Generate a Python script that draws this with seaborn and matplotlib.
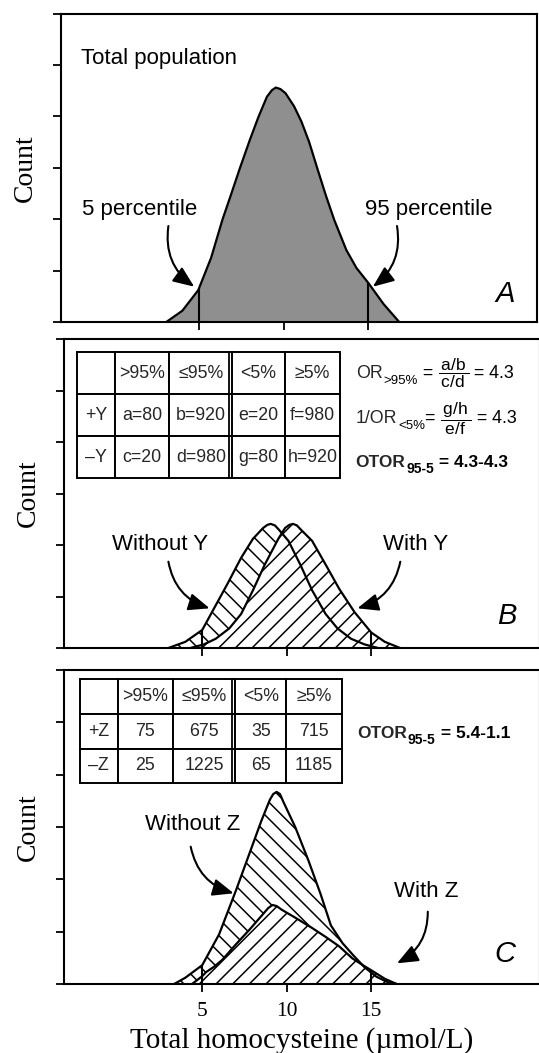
import numpy as np
import matplotlib
matplotlib.use("Agg")
import matplotlib.pyplot as plt
import seaborn as sns

# ---------------- data ----------------
# x: total homocysteine (umol/L); h: height in count-tick units
popA_x = [3.05, 4.0, 4.94, 5.7, 6.36, 6.9, 7.40, 8.0, 8.49, 9.0, 9.3, 9.53, 9.8, 10.1, 10.6,
          11.04, 11.5, 11.98, 12.5, 12.99, 13.7, 14.3, 15.0, 15.9, 16.83]
popA_h = [0, 0.22, 0.62, 1.25, 1.98, 2.5, 2.99, 3.55, 3.98, 4.38, 4.51, 4.56, 4.53, 4.45, 4.2,
          3.9, 3.5, 2.99, 2.45, 1.98, 1.4, 1.05, 0.76, 0.35, 0]

withoutY_x = [3.0, 4.0, 5.0, 5.7, 6.5, 7.3, 8.0, 8.6, 8.85, 9.05, 9.3, 9.5, 10.1, 10.8,
              11.5, 12.3, 13.0, 13.8, 14.6, 15.4]
withoutY_h = [0, 0.12, 0.35, 0.77, 1.25, 1.75, 2.12, 2.33, 2.39, 2.41, 2.38, 2.31, 2.08,
              1.62, 1.12, 0.66, 0.38, 0.18, 0.07, 0]
withY_x = [4.3, 5.1, 5.8, 6.6, 7.3, 8.0, 8.7, 9.5, 9.9, 10.15, 10.37, 10.6, 10.8, 11.5,
           12.3, 13.1, 14.0, 15.0, 15.8, 16.7]
withY_h = [0, 0.07, 0.18, 0.38, 0.66, 1.12, 1.62, 2.12, 2.33, 2.39, 2.41, 2.38, 2.31,
           2.08, 1.62, 1.15, 0.7, 0.3, 0.12, 0]

withoutZ_x = [3.34, 4.0, 5.0, 6.0, 7.01, 7.8, 8.5, 9.0, 9.2, 9.4, 9.6, 9.8, 10.5,
              11.27, 12.0, 12.61, 13.3, 13.93, 14.6, 15.3, 16.0, 16.5]
withoutZ_h = [0, 0.12, 0.36, 0.95, 1.80, 2.5, 3.12, 3.52, 3.63, 3.67, 3.63, 3.48, 3.0,
              2.37, 1.72, 1.12, 0.78, 0.55, 0.32, 0.14, 0.03, 0]
withZ_x = [4.4, 5.0, 5.24, 5.7, 6.18, 7.0, 7.8, 8.5, 8.9, 9.15, 9.4, 9.7, 10.54, 11.5,
           12.3, 13.1, 13.88, 14.5, 15.06, 15.8, 16.5]
withZ_h = [0, 0.15, 0.23, 0.33, 0.46, 0.76, 1.04, 1.3, 1.45, 1.51, 1.49, 1.42, 1.26,
           1.07, 0.9, 0.72, 0.49, 0.36, 0.25, 0.1, 0]

x_ticks = [5, 10, 15]
x_tick_labels = ["5", "10", "15"]
percentiles = [5, 15]

tableY_header = ["", ">95%", "≤95%", "<5%", "≥5%"]
tableY_rows = [["+Y", "a=80", "b=920", "e=20", "f=980"],
               ["–Y", "c=20", "d=980", "g=80", "h=920"]]
tableZ_header = ["", ">95%", "≤95%", "<5%", "≥5%"]
tableZ_rows = [["+Z", "75", "675", "35", "715"],
               ["–Z", "25", "1225", "65", "1185"]]

# ---------------- style ----------------
sns.set_theme(style="ticks")
SANS = ["Liberation Sans", "DejaVu Sans"]
SERIF = ["Liberation Serif", "DejaVu Serif"]
plt.rcParams["font.family"] = SANS
plt.rcParams["mathtext.fontset"] = "custom"
plt.rcParams["mathtext.rm"] = "Liberation Sans"
plt.rcParams["mathtext.default"] = "regular"
plt.rcParams["hatch.linewidth"] = 1.1
plt.rcParams["hatch.color"] = "black"

W, H = 539, 1053
fig = plt.figure(figsize=(W / 100, H / 100), dpi=100)


def rect(l, t, r, b):
    return [l / W, 1 - b / H, (r - l) / W, (b - t) / H]


def F(x, y):
    return (x / W, 1 - y / H)


axA = fig.add_axes(rect(60.7, 13.5, 537, 322))
axB = fig.add_axes(rect(63.6, 339, 540, 648))
axC = fig.add_axes(rect(63.6, 670, 540, 984))

for ax in (axA, axB, axC):
    ax.set_xlim(-3.2, 24.98)
    ax.set_ylim(0, 6)
    ax.set_yticks(range(7))
    ax.set_yticklabels([])
    ax.set_xticks(x_ticks)
    ax.set_xticklabels([])
    ax.tick_params(direction="out", length=6, width=1.3, color="black")
    for s in ax.spines.values():
        s.set_linewidth(1.5)
        s.set_color("black")
    ax.set_facecolor("white")
    ax.set_ylabel("Count", family=SERIF, fontsize=20, labelpad=7, color="black")
    ax.grid(False)

axC.set_xticklabels(x_tick_labels, family=SERIF, fontsize=15.5)
axC.tick_params(axis="x", pad=7, labelcolor="black")
axC.set_xlabel("Total homocysteine (µmol/L)", family=SERIF, fontsize=21, labelpad=4,
               color="black")

# ---------------- panel A ----------------
axA.fill_between(popA_x, popA_h, color="#8f8f8f", lw=0, zorder=1)
sns.lineplot(x=popA_x, y=popA_h, ax=axA, color="black", lw=1.6, sort=False,
             estimator=None, zorder=3)
axA.vlines(percentiles, 0, [np.interp(p, popA_x, popA_h) for p in percentiles],
           color="black", lw=1.5, zorder=4)

# ---------------- panel B ----------------
axB.fill_between(withoutY_x, withoutY_h, facecolor="white", edgecolor="black",
                 hatch="\\\\", lw=0, zorder=1)
axB.fill_between(withY_x, withY_h, facecolor="white", edgecolor="black",
                 hatch="//", lw=0, zorder=2)
sns.lineplot(x=withoutY_x, y=withoutY_h, ax=axB, color="black", lw=1.6, sort=False,
             estimator=None, zorder=3)
sns.lineplot(x=withY_x, y=withY_h, ax=axB, color="black", lw=1.6, sort=False,
             estimator=None, zorder=3)
axB.vlines(percentiles, 0,
           [max(np.interp(p, withoutY_x, withoutY_h), np.interp(p, withY_x, withY_h))
            for p in percentiles], color="black", lw=1.5, zorder=4)

# ---------------- panel C ----------------
axC.fill_between(withoutZ_x, withoutZ_h, facecolor="white", edgecolor="black",
                 hatch="\\\\", lw=0, zorder=1)
axC.fill_between(withZ_x, withZ_h, facecolor="white", edgecolor="black",
                 hatch="//", lw=0, zorder=2)
sns.lineplot(x=withoutZ_x, y=withoutZ_h, ax=axC, color="black", lw=1.6, sort=False,
             estimator=None, zorder=3)
sns.lineplot(x=withZ_x, y=withZ_h, ax=axC, color="black", lw=1.6, sort=False,
             estimator=None, zorder=3)
axC.vlines(percentiles, 0,
           [max(np.interp(p, withoutZ_x, withoutZ_h), np.interp(p, withZ_x, withZ_h))
            for p in percentiles], color="black", lw=1.5, zorder=4)

# ---------------- labels & arrows ----------------
def label(x, y, s, **kw):
    kw.setdefault("fontsize", 16)
    kw.setdefault("ha", "center")
    kw.setdefault("va", "center")
    return fig.text(*F(x, y), s, family=SANS, color="black", **kw)


def arrow(x0, y0, x1, y1, rad):
    fig.add_artist(matplotlib.patches.FancyArrowPatch(
        F(x0, y0), F(x1, y1), transform=fig.transFigure,
        arrowstyle="-|>,head_length=0.8,head_width=0.33",
        connectionstyle=f"arc3,rad={rad}", mutation_scale=16,
        color="black", lw=1.5, shrinkA=0, shrinkB=0))


label(80.8, 58.3, "Total population", ha="left")
label(140, 210, "5 percentile")
label(428.9, 210, "95 percentile")
arrow(168.4, 226, 194.2, 286.7, 0.3)
arrow(397, 226, 372.9, 286.7, -0.3)
label(505, 294, "A", fontsize=21, style="italic")

label(159.8, 545, "Without Y")
label(415.8, 545, "With Y")
arrow(168.4, 561.7, 209.6, 608.3, 0.3)
arrow(400.3, 561.7, 357.4, 608.3, -0.3)
label(507, 616, "B", fontsize=21, style="italic")

label(192.4, 825, "Without Z")
label(426, 891.7, "With Z")
arrow(190.7, 846.7, 233.7, 893.3, 0.3)
arrow(427.8, 911.7, 397, 963.3, -0.3)
label(505, 954, "C", fontsize=21, style="italic")


# ---------------- tables ----------------
def draw_table(ax, header, rows, l, t, r, b, col_px, top_ax, bot_ax, left_ax, right_ax):
    axw = right_ax - left_ax
    axh = bot_ax - top_ax
    bbox = [(l - left_ax) / axw, (bot_ax - b) / axh, (r - l) / axw, (b - t) / axh]
    widths = np.diff(col_px) / (r - l)
    tb = ax.table(cellText=[header] + rows, colWidths=list(widths), bbox=bbox,
                  cellLoc="center")
    tb.auto_set_font_size(False)
    tb.set_fontsize(12.8)
    for cell in tb.get_celld().values():
        cell.set_linewidth(1.4)
        cell.set_edgecolor("black")
        cell.set_facecolor("white")
        cell.get_text().set_fontfamily(SANS)
        cell.PAD = 0.02
    tb.set_zorder(6)
    # double rule between the two 2x2 tables
    xd = (col_px[3] - 3.5 - left_ax) / axw
    ax.plot([xd, xd], [bbox[1], bbox[1] + bbox[3]], transform=ax.transAxes,
            color="black", lw=1.3, zorder=7, clip_on=False)
    return tb


draw_table(axB, tableY_header, tableY_rows, 77.3, 352, 340.2, 478,
           [77.3, 115, 169.4, 232.5, 284.5, 340.2], 339, 648, 63.6, 540)
draw_table(axC, tableZ_header, tableZ_rows, 79.7, 679.3, 342, 783.3,
           [79.7, 117.9, 172.9, 235.4, 286.2, 342], 670, 984, 63.6, 540)


# ---------------- formulas ----------------
def chain(prev, s, xy=(1, 0), coords=None, dx=0, dy=0, size=12.5, weight="normal",
          va="bottom"):
    return fig.add_artist(matplotlib.text.Annotation(
        s, xy=xy, xycoords=coords if coords is not None else prev,
        xytext=(dx, dy), textcoords="offset points", va=va, ha="left",
        fontsize=size, fontweight=weight, family=SANS, color="black"))


def ratio_line(x, y, head, sub, eq1, frac):
    t = fig.text(*F(x, y), head, va="baseline", ha="left", fontsize=12.8, family=SANS)
    s = chain(t, sub, dx=0.5, dy=-3.5, size=9.5)
    e = chain(None, eq1, coords=(s, t), size=12.8)
    fr = chain(e, frac, xy=(1, 0.5), va="center", size=12.5)
    chain(None, " = 4.3", coords=(fr, t), size=12.8)


ratio_line(355.7, 378, "OR", ">95%", " = ", r"$\dfrac{\,a/b\,}{\,c/d\,}$")
ratio_line(355.7, 423, "1/OR", "<5%", "= ", r"$\dfrac{\,g/h\,}{\,e/f\,}$")


def otor(x, y, value):
    t = fig.text(*F(x, y), "OTOR", va="baseline", ha="left", fontsize=12.5,
                 fontweight="bold", family=SANS)
    s = chain(t, "95-5", dx=0.5, dy=-4, size=10, weight="bold")
    chain(None, " = " + value, coords=(s, t), weight="bold")


otor(355.7, 467, "4.3-4.3")
otor(357.4, 738, "5.4-1.1")

fig.savefig("out.png", dpi=100, facecolor="white")
